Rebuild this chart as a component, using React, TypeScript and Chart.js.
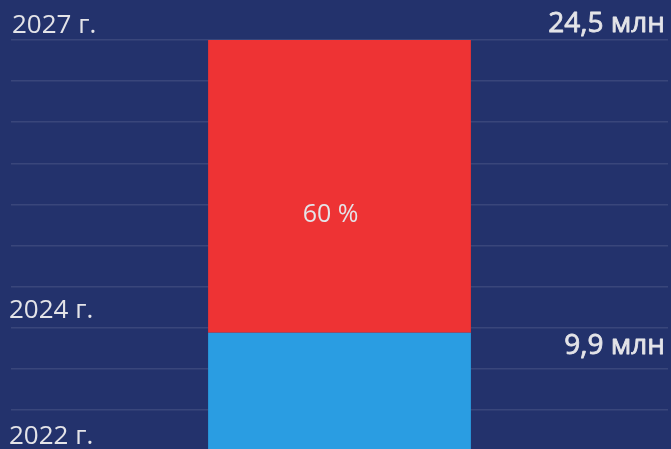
import React, { useEffect, useRef } from "react";
import { Chart, registerables } from "chart.js";

Chart.register(...registerables);

const categories = ["2022–2027"];
const baseValues = [9.9];
const targetValues = [24.5];
const growthValues = targetValues.map((v, i) => +(v - baseValues[i]).toFixed(1));
const yearLabels = ["2027 г.", "2024 г.", "2022 г."];
const amountLabels = ["24,5 млн", "9,9 млн"];
const shareLabel = "60 %";
const axisMin = 4;
const axisMax = 24.5;

const BG = "#23326c";
const TEXT = "#e4e4e8";

const labelPlugin = {
  id: "labelPlugin",
  afterDatasetsDraw(chart: any) {
    const { ctx, chartArea, scales } = chart;
    const y = scales.y;
    const yTop = y.getPixelForValue(targetValues[0]);
    const yBase = y.getPixelForValue(baseValues[0]);
    ctx.save();
    ctx.fillStyle = TEXT;
    ctx.strokeStyle = TEXT;
    ctx.textBaseline = "alphabetic";
    // left year labels
    ctx.textAlign = "left";
    ctx.font = "400 26px 'Open Sans'";
    ctx.fillText(yearLabels[0], 12, yTop - 7);
    ctx.fillText(yearLabels[1], 9, yBase - 15);
    ctx.fillText(yearLabels[2], 9, chartArea.bottom - 7);
    // right amount labels (medium weight)
    ctx.textAlign = "right";
    ctx.font = "400 28px 'Open Sans'";
    ctx.lineWidth = 0.8;
    ctx.lineJoin = "round";
    ctx.fillText(amountLabels[0], 665, yTop - 8);
    ctx.strokeText(amountLabels[0], 665, yTop - 8);
    ctx.fillText(amountLabels[1], 665, yBase + 21);
    ctx.strokeText(amountLabels[1], 665, yBase + 21);
    // share label
    const meta = chart.getDatasetMeta(1);
    const bar = meta.data[0];
    ctx.textAlign = "center";
    ctx.font = "400 25px 'Open Sans'";
    ctx.fillText(shareLabel, bar.x - 9, (yTop + yBase) / 2 + 36);
    ctx.restore();
  },
};

export default function App() {
  const ref = useRef<HTMLCanvasElement>(null);
  useEffect(() => {
    document.body.style.margin = "0";
    document.body.style.background = BG;
    const chart = new Chart(ref.current!, {
      type: "bar",
      data: {
        labels: categories,
        datasets: [
          {
            data: baseValues,
            backgroundColor: "#2a9de2",
            borderWidth: 0,
            barPercentage: 0.4,
            categoryPercentage: 1,
          },
          {
            data: growthValues,
            backgroundColor: "#ee3334",
            borderWidth: 0,
            barPercentage: 0.4,
            categoryPercentage: 1,
          },
        ],
      },
      options: {
        responsive: false,
        animation: false,
        layout: { padding: { left: 11, right: 3, top: 40, bottom: 9 } },
        plugins: { legend: { display: false }, tooltip: { enabled: false } },
        scales: {
          x: { stacked: true, display: false },
          y: {
            stacked: true,
            min: axisMin,
            max: axisMax,
            ticks: { display: false, count: 11 },
            border: { display: false },
            grid: { color: "rgba(255,255,255,0.1)", lineWidth: 1.5, drawTicks: false },
          },
        },
      },
      plugins: [labelPlugin],
    });
    return () => chart.destroy();
  }, []);
  return (
    <div style={{ position: "fixed", left: 0, top: 0, width: 671, height: 460, background: BG, overflow: "hidden" }}>
      <canvas ref={ref} width={671} height={460} style={{ display: "block" }} />
    </div>
  );
}
